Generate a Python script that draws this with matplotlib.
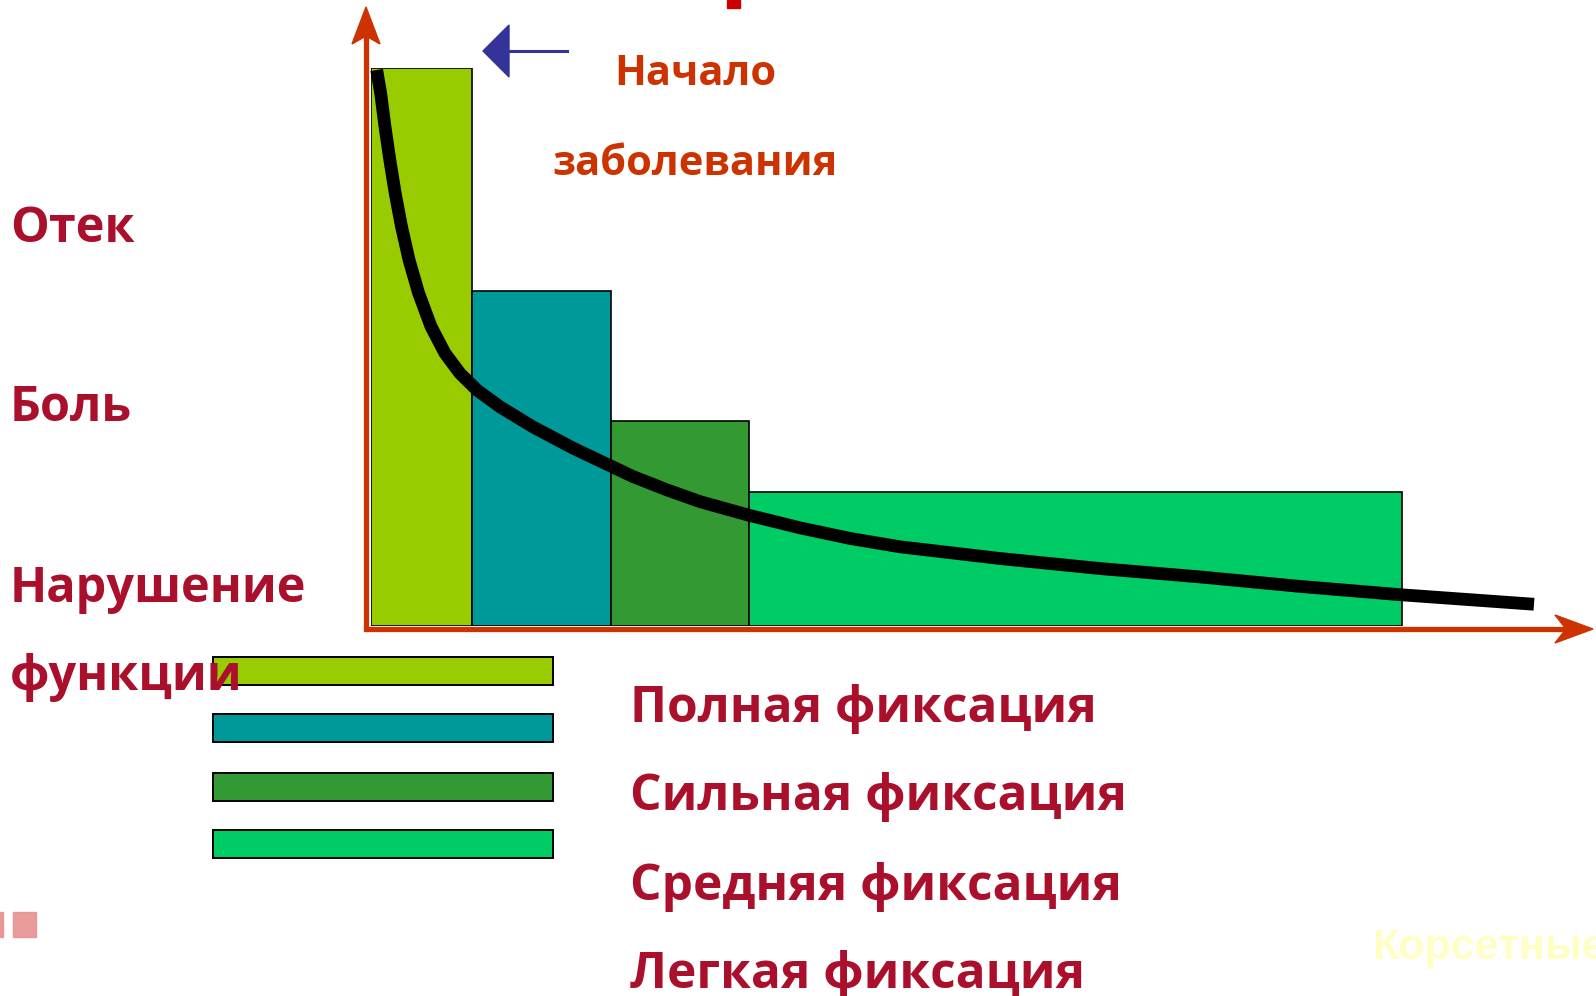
import matplotlib.pyplot as plt
from matplotlib.patches import Polygon, Rectangle

# данные: границы стадий (по времени) и степень фиксации
stage_edges = [0, 1.01, 2.40, 3.78, 10.31]
stage_heights = [100, 60, 36.7, 24.1]
stage_colors = ["#99CC00", "#009999", "#339933", "#00CC66"]
stage_labels = ["Полная фиксация", "Сильная фиксация", "Средняя фиксация", "Легкая фиксация"]

# кривая симптомов
curve_x = [0.057, 0.097, 0.14, 0.188, 0.242, 0.305, 0.381, 0.476, 0.60, 0.74, 0.89, 1.06,
           1.29, 1.62, 2.02, 2.29, 2.62, 2.96, 3.29, 3.77, 4.29, 4.79, 5.29, 6.29,
           7.29, 8.29, 9.29, 10.30, 11.63]
curve_y = [99.7, 95.5, 89.5, 83.6, 77.6, 71.6, 65.6, 59.7, 53.7, 48.9, 45.3, 42.3,
           39.3, 35.7, 31.9, 29.6, 26.8, 24.4, 22.3, 19.9, 17.6, 15.7, 14.2, 12.1,
           10.3, 8.8, 7.1, 5.6, 3.9]

symptoms = ["Отек", "Боль", "Нарушение", "функции"]
onset_text = ["Начало", "заболевания"]

W, H = 1596, 996
fig = plt.figure(figsize=(W / 100, H / 100), dpi=100)
fig.patch.set_facecolor("white")

# слой в пикселях для подписей и стрелок
ov = fig.add_axes([0, 0, 1, 1])
ov.set_xlim(0, W)
ov.set_ylim(H, 0)
ov.axis("off")

# график
ax = fig.add_axes([371 / W, (H - 626) / H, 1225 / W, 557.7 / H])
ax.set_xlim(0, 12.25)
ax.set_ylim(0, 100)
ax.axis("off")

widths = [stage_edges[i + 1] - stage_edges[i] for i in range(4)]
ax.bar(stage_edges[:4], stage_heights, width=widths, align="edge",
       color=stage_colors, edgecolor="black", linewidth=1.2, zorder=2)
ax.plot(curve_x, curve_y, color="black", lw=9.2, solid_capstyle="butt",
        solid_joinstyle="round", zorder=3, clip_on=False)

# оси со стрелками
axc = "#CC3300"
ov.plot([366, 366, 1570], [30, 629, 629], color=axc, lw=3.8, zorder=1,
        solid_joinstyle="miter")
ov.add_patch(Polygon([(366, 7), (380, 44), (366, 36), (352, 44)], closed=True, color=axc, zorder=1))
ov.add_patch(Polygon([(1593, 629), (1555, 615), (1566, 629), (1555, 643)], closed=True, color=axc, zorder=1))

# синяя стрелка
ov.plot([506, 567], [51, 51], color="#333399", lw=2.2)
ov.add_patch(Polygon([(483, 51), (509, 25), (509, 77)], closed=True, color="#333399"))

# обрезанная буква заголовка
ov.add_patch(Rectangle((727, 0), 13, 8, color="#CC0000"))
# остатки слева внизу
ov.add_patch(Rectangle((13, 912), 23, 25, color="#E89090", alpha=0.9))
ov.add_patch(Rectangle((0, 912), 2.5, 25, color="#E89090", alpha=0.9))

fnt = ["Open Sans", "DejaVu Sans"]
red = "#AA102C"

# легенда
key_y = [657, 714, 773, 830]
for y, c in zip(key_y, stage_colors):
    ov.add_patch(Rectangle((213, y), 340, 28, facecolor=c, edgecolor="black", lw=1.4, zorder=2))

sym_y = [241.7, 420.7, 601.7, 690]
for t, y in zip(symptoms, sym_y):
    ov.text(10, y, t, color=red, fontsize=35, fontweight="bold", family=fnt,
            va="baseline", ha="left", zorder=5)

ov.text(614, 85, onset_text[0], color=axc, fontsize=30, fontweight="bold", family=fnt, va="baseline")
ov.text(552, 175, onset_text[1], color=axc, fontsize=30, fontweight="bold", family=fnt, va="baseline")

lab_y = [721.7, 810, 900, 988.3]
for t, y in zip(stage_labels, lab_y):
    ov.text(630, y, t, color=red, fontsize=35.7, fontweight="bold", family=fnt, va="baseline")

ov.text(1372, 959, "Корсетные", color="#FFFFC4", fontsize=31, fontweight="bold",
        family=["Liberation Sans", "DejaVu Sans"], va="baseline")

fig.savefig("out.png", dpi=100)
